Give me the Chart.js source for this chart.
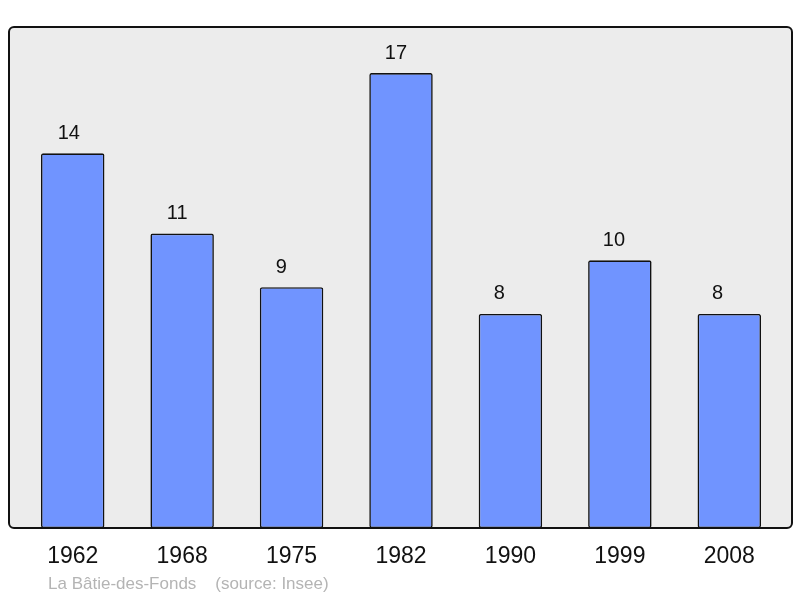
<!DOCTYPE html>
<html>
<head>
<meta charset="utf-8">
<script src="https://cdn.jsdelivr.net/npm/chart.js@4"></script>
<style>
  html, body { margin: 0; padding: 0; background: #fff; }
  #wrap { width: 800px; height: 598px; }
</style>
</head>
<body>
<div id="wrap"><canvas id="c" width="800" height="598"></canvas></div>
<script>
const years = ['1962', '1968', '1975', '1982', '1990', '1999', '2008'];
const population = [14, 11, 9, 17, 8, 10, 8];
const sourceText = 'La Bâtie-des-Fonds    (source: Insee)';

const FONT = '"Liberation Sans", Arial, sans-serif';

// gray panel with rounded border, wider than the chart area
const panelPlugin = {
  id: 'panel',
  beforeDraw(chart) {
    const { ctx } = chart;
    const x0 = 9, y0 = 27, x1 = 792, y1 = 528, r = 5;
    ctx.save();
    ctx.beginPath();
    ctx.roundRect(x0, y0, x1 - x0, y1 - y0, r);
    ctx.fillStyle = '#ececec';
    ctx.fill();
    ctx.restore();
  },
  afterDatasetsDraw(chart) {
    const { ctx } = chart;
    const x0 = 9, y0 = 27, x1 = 792, y1 = 528, r = 5;
    ctx.save();
    ctx.beginPath();
    ctx.roundRect(x0, y0, x1 - x0, y1 - y0, r);
    ctx.lineWidth = 2;
    ctx.strokeStyle = '#111';
    ctx.stroke();
    ctx.restore();
  },
  afterDraw(chart) {
    const { ctx, scales } = chart;
    ctx.save();
    ctx.textBaseline = 'middle';
    ctx.fillStyle = '#111';
    // value labels sit left-aligned a bit left of the bar centre
    ctx.textAlign = 'left';
    ctx.font = '20px ' + FONT;
    population.forEach((v, i) => {
      const x = scales.x.getPixelForValue(i);
      const y = scales.y.getPixelForValue(v);
      ctx.fillText(String(v), x - 15 - i * 0.4, y - 20);
    });
    ctx.textAlign = 'center';
    ctx.font = '23px ' + FONT;
    years.forEach((yr, i) => {
      ctx.fillText(yr, scales.x.getPixelForValue(i), 557);
    });
    ctx.textAlign = 'left';
    ctx.font = '17px ' + FONT;
    ctx.fillStyle = '#b4b4b4';
    ctx.fillText(sourceText, 48, 584);
    ctx.restore();
  },
};

new Chart(document.getElementById('c'), {
  type: 'bar',
  data: {
    labels: years,
    datasets: [{
      data: population,
      backgroundColor: '#7094ff',
      borderColor: '#111',
      borderWidth: 1.6,
      borderRadius: 2,
      borderSkipped: false,
      barPercentage: 0.58,
      categoryPercentage: 1,
    }],
  },
  options: {
    responsive: false,
    animation: false,
    layout: { padding: { left: 18, right: 16, top: 27, bottom: 70 } },
    scales: {
      x: { display: false },
      y: { display: false, min: 0, max: 18.72 },
    },
    plugins: {
      legend: { display: false },
      tooltip: { enabled: false },
    },
  },
  plugins: [panelPlugin],
});
</script>
</body>
</html>
